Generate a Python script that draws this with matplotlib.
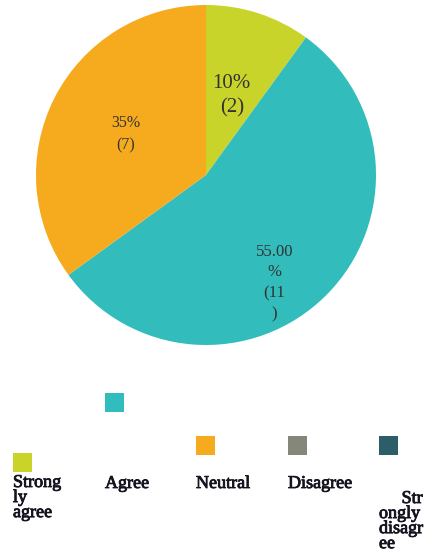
import numpy as np
import matplotlib
matplotlib.use("Agg")
import matplotlib.pyplot as plt
import matplotlib.patheffects as pe
from matplotlib.patches import Rectangle

plt.rcParams["font.family"] = "Liberation Serif"

# data
categories = ["Strongly agree", "Agree", "Neutral", "Disagree", "Strongly disagree"]
counts = [2, 11, 7, 0, 0]
pct_labels = ["10%\n(2)", "55.00\n%\n(11\n)", "35%\n(7)"]
legend_labels = ["Strong\nly\nagree", "Agree", "Neutral", "Disagree", "     Str\nongly\ndisagr\nee"]
colors = ["#c9d42a", "#33bcbc", "#f6ab1f", "#85877a", "#2b5e69"]

W, H = 430, 553
fig = plt.figure(figsize=(W / 100, H / 100), dpi=100)

# pie axes: centre (206,175) px, radius 170 px
cx, cy, r = 206, 175, 170
ax = fig.add_axes([(cx - r) / W, (H - cy - r) / H, 2 * r / W, 2 * r / H])
vals = [c for c in counts if c > 0]
wedges, _ = ax.pie(vals, colors=colors[:len(vals)], startangle=90,
                   counterclock=False, radius=1)
ax.set_xlim(-1, 1)
ax.set_ylim(-1, 1)
ax.set_aspect("equal")
ax.axis("off")

# slice labels, placed along the wedge middle angle
label_style = [  # (radius fraction, va, fontsize, linespacing)
    (0.49, "center", 15, 1.35),
    (0.57, "top", 12, 1.4),
    (0.53, "center", 11.5, 1.55),
]
for w, txt, (rf, va, fs, ls) in zip(wedges, pct_labels, label_style):
    mid = np.deg2rad((w.theta1 + w.theta2) / 2)
    ax.text(rf * np.cos(mid), rf * np.sin(mid), txt, ha="center", va=va,
            fontsize=fs, color="#333333", linespacing=ls)

# hand-placed legend (pixel positions from the reference)
sq_pos = [(13, 453), (105, 393), (196, 436), (288, 436), (379, 436)]
txt_pos = [(13, 474), (105, 475), (196, 475), (288, 475), (379, 490)]
sq = 19
thick = [pe.withStroke(linewidth=0.6, foreground="#141420")]
for col, lab, (sx, sy), (tx, ty) in zip(colors, legend_labels, sq_pos, txt_pos):
    fig.add_artist(Rectangle((sx / W, 1 - (sy + sq) / H), sq / W, sq / H,
                             transform=fig.transFigure, facecolor=col,
                             edgecolor="none"))
    fig.text(tx / W, 1 - ty / H, lab, ha="left", va="top", fontsize=13,
             color="#141420", linespacing=0.85, path_effects=thick)

fig.savefig("out.png", dpi=100)
